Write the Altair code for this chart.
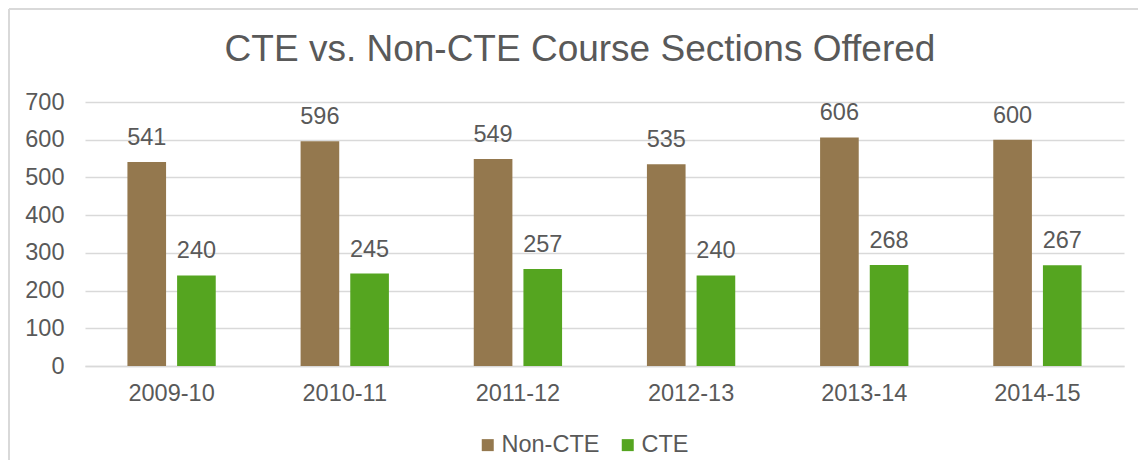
import altair as alt
import pandas as pd

years = ["2009-10", "2010-11", "2011-12", "2012-13", "2013-14", "2014-15"]
non_cte = [541, 596, 549, 535, 606, 600]
cte = [240, 245, 257, 240, 268, 267]
series = ["Non-CTE", "CTE"]
colors = ["#94784E", "#55A520"]
y_ticks = [0, 100, 200, 300, 400, 500, 600, 700]

rows = []
for i, yr in enumerate(years):
    rows.append({"year": yr, "series": "Non-CTE", "value": non_cte[i]})
    rows.append({"year": yr, "series": "CTE", "value": cte[i]})
df = pd.DataFrame(rows)

FONT = "Liberation Sans"
TXT = "#595959"
FS = 23.5

W, H = 1039, 264

x_enc = alt.X("year:N", sort=years,
              scale=alt.Scale(paddingInner=0.49, paddingOuter=0.245),
              axis=alt.Axis(title=None, labelAngle=0, ticks=False, tickSize=0,
                            labelPadding=15, domainColor="#D9D9D9",
                            domainWidth=1.5, grid=False))
xo_enc = alt.XOffset("series:N", sort=series,
                     scale=alt.Scale(paddingInner=0.222, paddingOuter=0))
y_enc = alt.Y("value:Q", scale=alt.Scale(domain=[0, 700], nice=False),
              axis=alt.Axis(title=None, values=y_ticks, ticks=False, tickSize=0,
                            domain=False, labelPadding=21, grid=True,
                            labelOverlap=False, labelBound=False,
                            gridColor="#D9D9D9", gridWidth=1.5))
color_enc = alt.Color("series:N", sort=series,
                      scale=alt.Scale(domain=series, range=colors),
                      legend=alt.Legend(title=None, orient="none", legendX=391,
                                        legendY=331, direction="horizontal",
                                        symbolType="square", symbolSize=144,
                                        symbolStrokeWidth=0, labelFontSize=FS,
                                        labelFont=FONT, labelColor=TXT,
                                        labelOffset=2, columnPadding=16,
                                        padding=0))

base = alt.Chart(df)
bars = base.mark_bar().encode(x=x_enc, xOffset=xo_enc, y=y_enc, color=color_enc)
labels = base.mark_text(baseline="alphabetic", dy=-17, fontSize=FS, font=FONT,
                        color=TXT).encode(
    x=x_enc, xOffset=xo_enc, y=y_enc, text="value:Q")

border_df = pd.DataFrame({"k": [0]})
left_border = alt.Chart(border_df).mark_rule(color="#D9D9D9", strokeWidth=2).encode(
    x=alt.value(-76), y=alt.value(-93), y2=alt.value(400))
top_border = alt.Chart(border_df).mark_rule(color="#D9D9D9", strokeWidth=2).encode(
    x=alt.value(-76), x2=alt.value(1100), y=alt.value(-93))

chart = alt.layer(bars, labels, left_border, top_border).properties(
    width=W, height=H,
    title=alt.TitleParams("CTE vs. Non-CTE Course Sections Offered",
                          fontSize=37, font=FONT, color=TXT, fontWeight="normal",
                          anchor="middle", frame="group", dx=-24.5,
                          baseline="alphabetic", offset=-90),
    padding={"left": 77, "top": 94, "right": 14, "bottom": 94},
    autosize=alt.AutoSizeParams(type="none"),
).configure_axis(
    labelFont=FONT, labelFontSize=FS, labelColor=TXT
).configure_view(stroke=None)

chart.save("out.html", embed_options={"renderer": "svg", "actions": False})
